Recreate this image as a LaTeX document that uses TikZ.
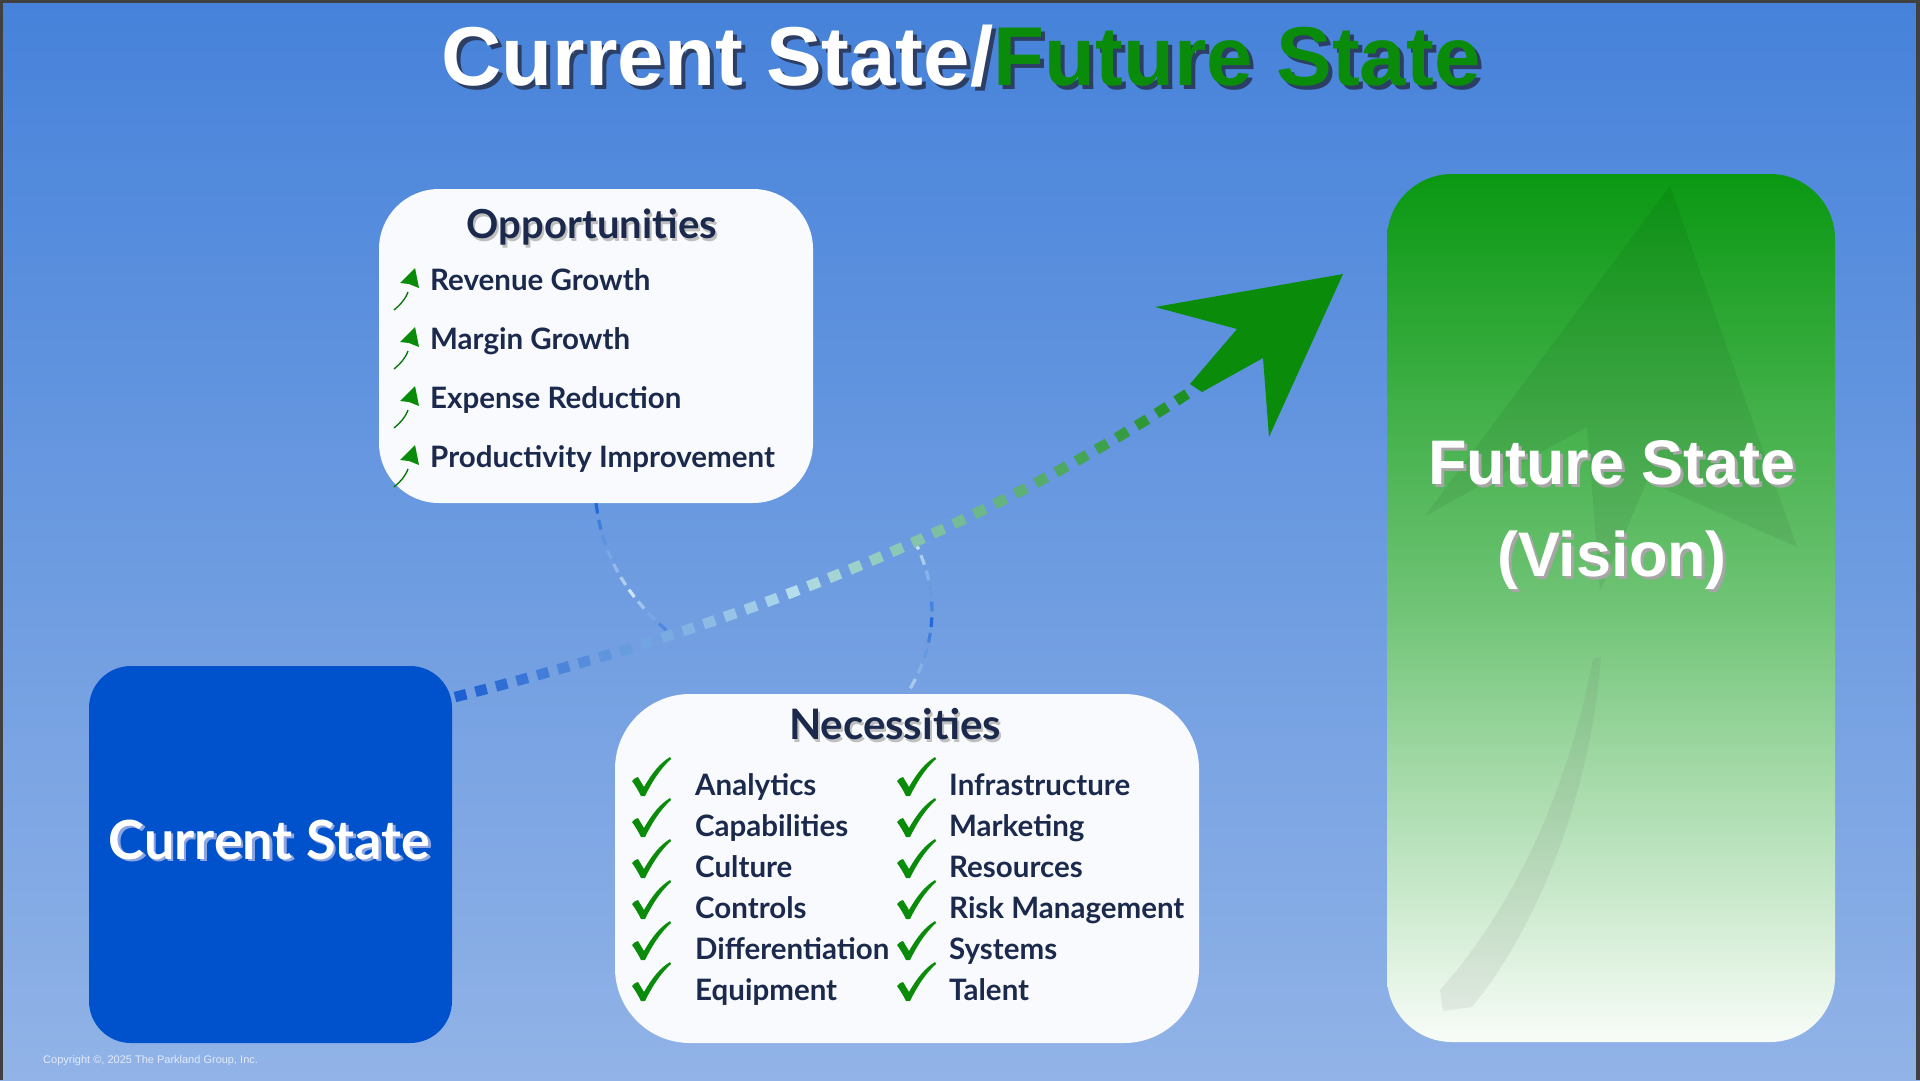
\documentclass[tikz,border=0pt]{standalone}
\usepackage{fontspec}
\setmainfont{Liberation Sans}
\newfontfamily\lato{Lato}
\usetikzlibrary{calc}
\definecolor{bgtop}{RGB}{70,130,218}
\definecolor{bgbot}{RGB}{145,179,231}
\definecolor{framegray}{RGB}{64,64,64}
\definecolor{tgreen}{RGB}{10,140,10}
\definecolor{tshadow}{RGB}{44,62,100}
\definecolor{navy}{RGB}{27,42,76}
\definecolor{boxwhite}{RGB}{248,250,253}
\definecolor{curblue}{RGB}{0,82,204}
\definecolor{curshadow}{RGB}{140,165,225}
\definecolor{fgtop}{RGB}{10,152,18}
\definecolor{fgmid}{RGB}{112,196,118}
\definecolor{fgbot}{RGB}{248,252,248}
\definecolor{dblue}{RGB}{30,95,210}
\definecolor{pale}{RGB}{180,220,235}
\definecolor{dgreen}{RGB}{22,140,22}
\definecolor{cblue}{RGB}{35,105,215}
\definecolor{cpale}{RGB}{205,228,245}
\definecolor{copytext}{RGB}{228,235,248}
\begin{document}
\begin{tikzpicture}[x=1pt,y=-1pt,
  wbox/.style={draw=none, fill=boxwhite, inner sep=0pt},
  oppitem/.style={anchor=base west, inner sep=0pt, text=navy, font=\lato\bfseries\fontsize{29.5}{29.5}\selectfont},
  necitem/.style={anchor=base west, inner sep=0pt, text=navy, font=\lato\bfseries\fontsize{29.5}{29.5}\selectfont},
  heading/.style={anchor=base, inner sep=0pt, text=navy, font=\lato\bfseries\fontsize{40}{40}\selectfont},
  headshadow/.style={anchor=base, inner sep=0pt, text=black, opacity=0.22, font=\lato\bfseries\fontsize{40}{40}\selectfont},
  titlefont/.style={anchor=base, inner sep=0pt, font=\bfseries\fontsize{83.5}{83.5}\selectfont},
  futfont/.style={anchor=base, inner sep=0pt, font=\bfseries\fontsize{63}{63}\selectfont},
  curfont/.style={anchor=base, inner sep=0pt, font=\lato\bfseries\fontsize{54}{54}\selectfont},
  tick/.pic={\fill[tgreen] (0,-14) .. controls (3,-17) .. (6,-18) -- (12,-8)
      .. controls (20,-22) and (28,-32) .. (38,-38) -- (39,-36)
      .. controls (28,-26) and (20,-13) .. (13,1) -- (9,1)
      .. controls (6,-5) and (3,-10) .. (0,-14) -- cycle;},
  upicon/.pic={\draw[green!45!black, line width=1.3pt] (-5,2) .. controls (-8,10) and (-13,15) .. (-19,20);
      \fill[tgreen] (2,-22) -- (6,-2) -- (-4,-6) -- (-13,-7) -- cycle;}
]
\useasboundingbox (0,0) rectangle (1920,1080);
% background
\shade[top color=bgtop, bottom color=bgbot] (0,0) rectangle (1920,1080);
\fill[framegray] (0,0) rectangle (1920,3);
\fill[framegray] (0,0) rectangle (3,1080);
\fill[framegray] (1916,0) rectangle (1920,1080);

% title (shadow drawn as part of the same node)
\node[titlefont] (title) at (961,85) {\rlap{\kern4pt\raisebox{-4pt}{\textcolor{tshadow}{Current State/Future State}}}\textcolor{white}{Current State/}\textcolor{tgreen}{Future State}};

% boxes
\node[wbox, rounded corners=60pt, minimum width=434pt, minimum height=314pt] (opp) at (596,346) {};
\node[wbox, rounded corners=75pt, minimum width=584pt, minimum height=349pt] (nec) at (907,868.5) {};
\node[draw=none, fill=curblue, inner sep=0pt, rounded corners=42pt, minimum width=363pt, minimum height=377pt] (cur) at (270.5,854.5) {};
\node[draw=none, inner sep=0pt, rounded corners=65pt, minimum width=448pt, minimum height=868pt,
      top color=fgtop, bottom color=fgbot, middle color=fgmid] (fut) at (1611,608) {};

% watermark arrow in future box
\fill[black, opacity=0.06] (1670,186) -- (1425,516) -- (1587,427) -- (1600,591) -- (1647,481) -- (1797,547) -- cycle;
\fill[black!60, opacity=0.10] (1593,659) .. controls (1570,780) and (1520,900) .. (1440,990) -- (1443,1011) -- (1472,1007)
   .. controls (1535,930) and (1590,800) .. (1601,657) -- cycle;

% connector coordinates
\coordinate (dstart) at (455,697);
\coordinate (abase) at (1196,388);
\coordinate (j1) at (671,634);
\coordinate (j2) at (914,540);

% thin dashed connector: opportunities -> path
\foreach \i in {0,...,9}{
  \pgfmathsetmacro\ta{\i/10}
  \pgfmathsetmacro\tb{(\i+0.62)/10}
  \pgfmathtruncatemacro\p{\ta<0.6 ? 100*\ta/0.6 : 100*(1-\ta)/0.4}
  \path (opp.south) .. controls (603,560) and (630,600) .. (j1)
     coordinate[pos=\ta] (qa) coordinate[pos=\tb] (qb);
  \draw[line width=3.2pt, color=cpale!\p!cblue] (qa) -- (qb);
}
% thin dashed connector: path -> necessities
\foreach \i in {0,...,9}{
  \pgfmathsetmacro\ta{\i/10}
  \pgfmathsetmacro\tb{(\i+0.62)/10}
  \pgfmathtruncatemacro\p{100*abs(2*\ta-1)}
  \path (j2) .. controls (940,590) and (938,645) .. (nec.north)
     coordinate[pos=\ta] (qa) coordinate[pos=\tb] (qb);
  \draw[line width=3.2pt, color=cpale!\p!cblue] (qa) -- (qb);
}

% thick dotted arrow path, blue -> pale -> green
\foreach \i in {0,...,15}{
  \pgfmathsetmacro\ta{\i/36}
  \pgfmathsetmacro\tb{(\i+0.55)/36}
  \pgfmathtruncatemacro\p{100*\ta/0.45}
  \path (dstart) .. controls (700,635) and (960,545) .. (abase)
     coordinate[pos=\ta] (qa) coordinate[pos=\tb] (qb);
  \draw[line width=10.5pt, color=pale!\p!dblue] (qa) -- (qb);
}
\foreach \i in {16,...,35}{
  \pgfmathsetmacro\ta{\i/36}
  \pgfmathsetmacro\tb{(\i+0.55)/36}
  \pgfmathtruncatemacro\p{100*(1-(\ta-0.45)/0.55)}
  \path (dstart) .. controls (700,635) and (960,545) .. (abase)
     coordinate[pos=\ta] (qa) coordinate[pos=\tb] (qb);
  \draw[line width=10.5pt, color=pale!\p!dgreen] (qa) -- (qb);
}
% big green arrowhead
\fill[tgreen] (1343,274) -- (1155,307) -- (1237,329) -- (1190,384) -- (abase) -- (1202,392) -- (1263,358) -- (1269,437) -- cycle;

% Opportunities
\node[heading] (opph) at (592,238) {\rlap{\kern2pt\raisebox{-3pt}{\textcolor{black!25}{Opportunities}}}Opportunities};
\foreach \bl/\txt [count=\k] in {290/Revenue Growth, 349/Margin Growth, 408/Expense Reduction, 467/Productivity Improvement}{
  \pic at (413,\bl) {upicon};
  \node[oppitem] (oi\k) at (430,\bl) {\txt};
}

% Necessities
\node[heading, font=\lato\bfseries\fontsize{42}{42}\selectfont] (nech) at (895,739) {\rlap{\kern2pt\raisebox{-3pt}{\textcolor{black!25}{Necessities}}}Necessities};
\foreach \bl/\ta/\tb [count=\k] in {795/Analytics/Infrastructure, 836/Capabilities/Marketing, 877/Culture/Resources,
    918/Controls/Risk Management, 959/Differentiation/Systems, 1000/Equipment/Talent}{
  \pic at (632,\bl) {tick};
  \pic at (897,\bl) {tick};
  \node[necitem] (na\k) at (695,\bl) {\ta};
  \node[necitem] (nb\k) at (949,\bl) {\tb};
}

% Current State text
\node[curfont, text=white] (curt) at (269.5,859) {\rlap{\kern2.5pt\raisebox{-2.5pt}{\textcolor{curshadow}{Current State}}}Current State};

% Future State text
\node[futfont, text=white] (futt1) at (1612,484) {\rlap{\kern3pt\raisebox{-3pt}{\textcolor{black!35}{Future State}}}Future State};
\node[futfont, text=white] (futt2) at (1612,576) {\rlap{\kern3pt\raisebox{-3pt}{\textcolor{black!35}{(Vision)}}}(Vision)};

% copyright
\node[anchor=base west, inner sep=0pt, text=copytext, font=\fontsize{11}{11}\selectfont] (copy) at (43,1063) {Copyright \textcopyright, 2025 The Parkland Group, Inc.};
\end{tikzpicture}
\end{document}
